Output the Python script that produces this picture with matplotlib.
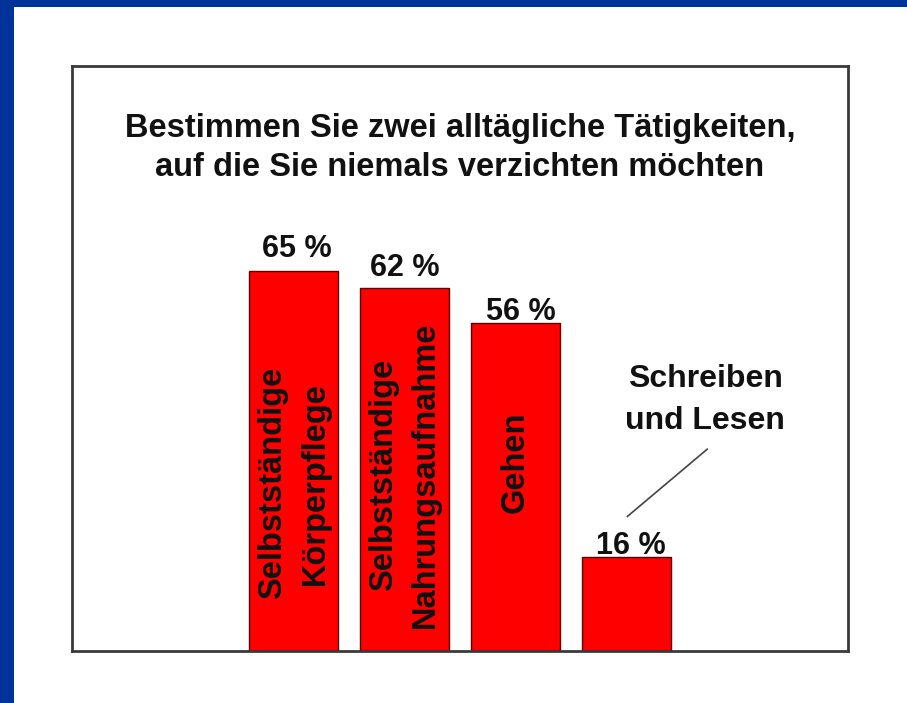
import matplotlib
matplotlib.use("Agg")
import matplotlib.pyplot as plt
from matplotlib.patches import Rectangle

categories = ["Selbstständige\nKörperpflege", "Selbstständige\nNahrungsaufnahme", "Gehen", "Schreiben\nund Lesen"]
values = [65, 62, 56, 16]
value_labels = ["65 %", "62 %", "56 %", "16 %"]
title = "Bestimmen Sie zwei alltägliche Tätigkeiten,\nauf die Sie niemals verzichten möchten"

# label placement offsets (points) relative to bar top centre
label_dx = [2.2, 0.0, 4.0, 3.0]
label_dy = [10.0, 8.6, 2.2, 2.2]

W, H = 907, 703
fig = plt.figure(figsize=(W / 100, H / 100), dpi=100)
fig.patch.set_facecolor("white")

# blue frame bands (left and top)
fig.patches.append(Rectangle((0, 0), 14 / W, 1, transform=fig.transFigure, facecolor="#003399", edgecolor="none"))
fig.patches.append(Rectangle((0, 1 - 7 / H), 1, 7 / H, transform=fig.transFigure, facecolor="#003399", edgecolor="none"))

ax = fig.add_axes([72 / W, (H - 651) / H, 776 / W, (651 - 66) / H])
ax.set_xlim(-2, 5)
ax.set_ylim(0, 100)
ax.set_xticks([])
ax.set_yticks([])
for s in ax.spines.values():
    s.set_color("#3a3a3a")
    s.set_linewidth(2)

font = "Liberation Sans"
x = list(range(len(values)))
ax.bar(x, values, width=0.8, color="#ff0000", edgecolor="#5a0000", linewidth=1.0)

# value labels
for xi, v, lab, dx, dy in zip(x, values, value_labels, label_dx, label_dy):
    ax.annotate(lab, (xi, v), xytext=(dx, dy), textcoords="offset points",
                ha="center", va="baseline", fontsize=22, fontweight="bold",
                family=font, color="#111111")

# rotated in-bar labels
label_y = [28.7, 30.1, 32.3]
for xi, cat, yy in zip(x[:3], categories[:3], label_y):
    ax.text(xi, yy, cat, rotation=90, ha="center", va="center", multialignment="center",
            fontsize=23.5, fontweight="bold", family=font, color="#111111", linespacing=1.48)

# external label for last bar
ax.text(3.71, 42.9, categories[3], ha="center", va="center", multialignment="center",
        fontsize=23, fontweight="bold", family=font, color="#111111", linespacing=1.5)
ax.plot([3.73, 3.01], [34.5, 23.0], color="#444444", linewidth=1.2)

# title
ax.text(1.5, 86.0, title, ha="center", va="center", multialignment="center",
        fontsize=23.5, fontweight="bold", family=font, color="#111111", linespacing=1.36)

fig.savefig("out.png", dpi=100, facecolor="white")
